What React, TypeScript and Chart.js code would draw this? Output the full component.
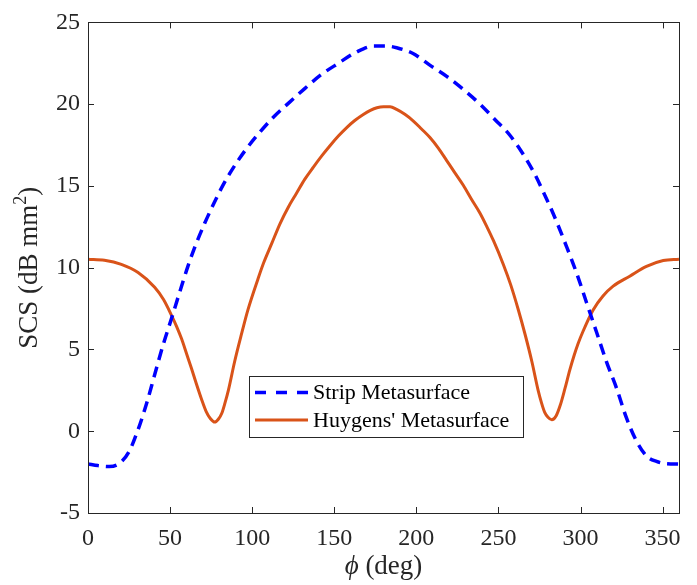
import React, { useEffect, useRef } from "react";
import { Chart, registerables } from "chart.js";

Chart.register(...registerables);

const stripPhi = [0, 6, 13, 19, 25, 30.5, 35.5, 40.6, 45.7, 50.8, 55.8, 60.9, 66, 71, 77, 82, 87.5, 95.6, 104.8, 112.9, 122, 132, 142, 152.5, 163.7, 174, 182, 188, 198, 208, 218.5, 228.6, 238.8, 248, 257, 265, 272, 277.5, 283.4, 291.5, 297.6, 303.7, 309.8, 315.9, 322, 328, 334.1, 340.2, 346.3, 352.4, 360];
const stripSCS = [-2.0, -2.1, -2.16, -1.98, -1.25, 0.1, 1.63, 3.45, 5.26, 6.87, 8.49, 10.1, 11.5, 12.7, 14.0, 15.0, 15.95, 17.15, 18.3, 19.2, 20.05, 20.95, 21.8, 22.5, 23.2, 23.55, 23.55, 23.45, 23.1, 22.4, 21.7, 20.9, 20.0, 19.05, 18.1, 16.95, 15.75, 14.6, 13.3, 11.29, 9.68, 7.86, 6.05, 4.23, 2.62, 0.81, -0.6, -1.51, -1.85, -1.98, -2.0];

const huygensPhi = [0, 10, 20.3, 30.5, 40.6, 46, 50.8, 54, 57, 60, 63, 66, 69, 72, 74.5, 77.2, 79.5, 81.5, 83.5, 85.5, 89.3, 93.4, 97.5, 103.5, 107, 112, 117, 122, 127, 132, 137.3, 142.5, 147.4, 152.5, 157.6, 162.5, 167.7, 172, 176, 180, 184, 188, 193, 198.2, 203, 208.3, 213.5, 218.5, 223.5, 228.6, 233.5, 238.8, 243, 247, 253, 257.5, 262.2, 266.3, 270.4, 274.2, 276.2, 278.2, 280.2, 282.5, 285.2, 287.7, 290.5, 293.5, 296, 298.5, 301.5, 307.6, 313.7, 319.9, 330, 340.2, 350.4, 360];
const huygensSCS = [10.52, 10.45, 10.2, 9.7, 8.8, 8.05, 7.1, 6.4, 5.65, 4.75, 3.85, 2.9, 2.0, 1.2, 0.78, 0.56, 0.75, 1.1, 1.75, 2.5, 4.25, 5.9, 7.45, 9.3, 10.3, 11.5, 12.7, 13.7, 14.55, 15.4, 16.15, 16.85, 17.46, 18.05, 18.57, 19.0, 19.37, 19.62, 19.78, 19.84, 19.84, 19.68, 19.38, 18.97, 18.5, 17.96, 17.3, 16.55, 15.8, 15.04, 14.2, 13.33, 12.5, 11.65, 10.2, 8.95, 7.4, 5.9, 4.25, 2.5, 1.75, 1.15, 0.85, 0.7, 0.95, 1.6, 2.6, 3.75, 4.6, 5.35, 6.1, 7.4, 8.27, 8.87, 9.48, 10.08, 10.44, 10.52];

const xTicks = [0, 50, 100, 150, 200, 250, 300, 350];
const yTicks = [-5, 0, 5, 10, 15, 20, 25];
const seriesLabels = ["Strip Metasurface", "Huygens' Metasurface"];
const xTitleSymbol = "ϕ";
const xTitleRest = " (deg)";
const yTitleMain = "SCS (dB mm";
const yTitleSup = "2";
const yTitleEnd = ")";

const BLUE = "#0000FF";
const ORANGE = "#D95319";
const AXIS = "#262626";
const FONT = "'Liberation Serif', 'Times New Roman', serif";

export default function App() {
  const ref = useRef<HTMLCanvasElement>(null);

  useEffect(() => {
    const canvas = ref.current;
    if (!canvas) return;

    const framePlugin = {
      id: "matlabFrame",
      afterDatasetsDraw(chart: any) {
        const { ctx, chartArea: a, scales } = chart;
        const xs = scales.x;
        const ys = scales.y;
        ctx.save();
        ctx.strokeStyle = AXIS;
        ctx.lineWidth = 1;
        ctx.strokeRect(Math.round(a.left) + 0.5, Math.round(a.top) + 0.5, Math.round(a.right - a.left), Math.round(a.bottom - a.top));
        const tl = 6;
        ctx.beginPath();
        xTicks.forEach((t) => {
          const px = Math.round(xs.getPixelForValue(t)) + 0.5;
          ctx.moveTo(px, a.bottom);
          ctx.lineTo(px, a.bottom - tl);
          ctx.moveTo(px, a.top);
          ctx.lineTo(px, a.top + tl);
        });
        yTicks.forEach((t) => {
          const py = Math.round(ys.getPixelForValue(t)) + 0.5;
          ctx.moveTo(a.left, py);
          ctx.lineTo(a.left + tl, py);
          ctx.moveTo(a.right, py);
          ctx.lineTo(a.right - tl, py);
        });
        ctx.stroke();

        // legend
        const lx = 249, ly = 376, lw = 274, lh = 61;
        ctx.fillStyle = "#ffffff";
        ctx.fillRect(lx, ly, lw, lh);
        ctx.strokeStyle = AXIS;
        ctx.lineWidth = 1;
        ctx.strokeRect(lx + 0.5, ly + 0.5, lw, lh);
        const rows = [392.5, 420];
        const colors = [BLUE, ORANGE];
        rows.forEach((ry, i) => {
          ctx.beginPath();
          ctx.strokeStyle = colors[i];
          ctx.lineWidth = i === 0 ? 3.5 : 3;
          ctx.setLineDash(i === 0 ? [11, 10] : []);
          ctx.moveTo(255, ry);
          ctx.lineTo(308, ry);
          ctx.stroke();
          ctx.setLineDash([]);
          ctx.fillStyle = "#000000";
          ctx.font = `22px ${FONT}`;
          ctx.textBaseline = "middle";
          ctx.textAlign = "left";
          ctx.fillText(seriesLabels[i], 313, ry + 1);
        });

        // x title
        ctx.fillStyle = AXIS;
        ctx.textBaseline = "alphabetic";
        ctx.textAlign = "left";
        const fItalic = `italic 27px ${FONT}`;
        const fNormal = `27px ${FONT}`;
        ctx.font = fItalic;
        const w1 = ctx.measureText(xTitleSymbol).width;
        ctx.font = fNormal;
        const w2 = ctx.measureText(xTitleRest).width;
        const cx = (a.left + a.right) / 2;
        const sx = cx - (w1 + w2) / 2;
        ctx.font = fItalic;
        ctx.fillText(xTitleSymbol, sx, 574);
        ctx.font = fNormal;
        ctx.fillText(xTitleRest, sx + w1, 574);

        // y title
        ctx.save();
        ctx.translate(37, (a.top + a.bottom) / 2);
        ctx.rotate(-Math.PI / 2);
        ctx.font = fNormal;
        const m1 = ctx.measureText(yTitleMain).width;
        const m3 = ctx.measureText(yTitleEnd).width;
        const fSup = `18px ${FONT}`;
        ctx.font = fSup;
        const m2 = ctx.measureText(yTitleSup).width;
        const yx = -(m1 + m2 + m3) / 2;
        ctx.font = fNormal;
        ctx.fillText(yTitleMain, yx, 0);
        ctx.font = fSup;
        ctx.fillText(yTitleSup, yx + m1, -11);
        ctx.font = fNormal;
        ctx.fillText(yTitleEnd, yx + m1 + m2, 0);
        ctx.restore();

        ctx.restore();
      },
    };

    const chart = new Chart(canvas, {
      type: "line",
      data: {
        datasets: [
          {
            label: seriesLabels[0],
            data: stripPhi.map((p, i) => ({ x: p, y: stripSCS[i] })),
            borderColor: BLUE,
            borderWidth: 3.5,
            borderDash: [11, 7],
            pointRadius: 0,
            cubicInterpolationMode: "monotone",
            fill: false,
          },
          {
            label: seriesLabels[1],
            data: huygensPhi.map((p, i) => ({ x: p, y: huygensSCS[i] })),
            borderColor: ORANGE,
            borderWidth: 3,
            pointRadius: 0,
            cubicInterpolationMode: "monotone",
            fill: false,
          },
        ],
      },
      options: {
        responsive: false,
        animation: false,
        layout: { padding: { top: 17, right: 18, left: 0, bottom: 0 } },
        plugins: {
          legend: { display: false },
          tooltip: { enabled: false },
        },
        scales: {
          x: {
            type: "linear",
            min: 0,
            max: 360,
            grid: { display: false, drawTicks: false },
            border: { display: false },
            ticks: {
              stepSize: 50,
              includeBounds: false,
              padding: 11,
              color: AXIS,
              font: { family: FONT, size: 24 },
              maxRotation: 0,
            },
            afterFit(scale: any) {
              scale.height = 72;
            },
          },
          y: {
            type: "linear",
            min: -5,
            max: 25,
            grid: { display: false, drawTicks: false },
            border: { display: false },
            ticks: {
              stepSize: 5,
              padding: 8,
              color: AXIS,
              font: { family: FONT, size: 24 },
            },
            afterFit(scale: any) {
              scale.width = 88;
            },
          },
        },
      },
      plugins: [framePlugin],
    });

    return () => chart.destroy();
  }, []);

  return (
    <canvas
      ref={ref}
      width={697}
      height={585}
      style={{ position: "absolute", left: 0, top: 0, display: "block" }}
    />
  );
}
